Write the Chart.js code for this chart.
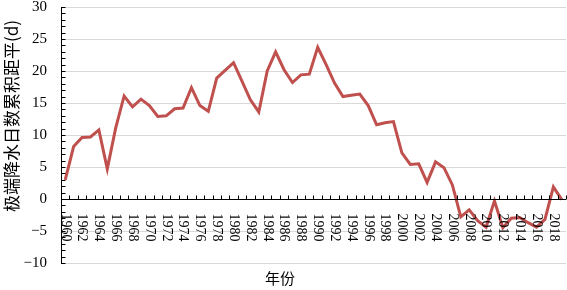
<!DOCTYPE html>
<html>
<head>
<meta charset="utf-8">
<script src="https://cdn.jsdelivr.net/npm/chart.js@4"></script>
<style>
  html, body { margin: 0; padding: 0; background: #fff; }
  #wrap { width: 567px; height: 290px; }
</style>
</head>
<body>
<div id="wrap"><canvas id="chart" width="567" height="290"></canvas></div>
<script>
// years 1960..2019
const years = [];
for (let y = 1960; y <= 2019; y++) years.push(String(y));

const anomaly = [
  3.0, 8.2, 9.6, 9.7, 10.8, 4.7, 11.1, 16.1, 14.4, 15.6,
  14.6, 12.9, 13.0, 14.1, 14.2, 17.4, 14.6, 13.7, 18.9, 20.1,
  21.3, 18.4, 15.5, 13.6, 20.0, 23.0, 20.2, 18.2, 19.4, 19.5,
  23.7, 21.0, 18.1, 16.0, 16.2, 16.4, 14.6, 11.6, 11.9, 12.1,
  7.2, 5.4, 5.5, 2.6, 5.8, 4.9, 2.2, -2.8, -1.7, -3.4,
  -4.4, -0.3, -4.5, -3.0, -2.9, -3.7, -4.4, -3.2, 1.9, -0.1
];

const yTitle = '极端降水日数累积距平(d)';
const xTitle = '年份';
const serif = '"Liberation Serif", "DejaVu Serif", serif';
const cjk = '"Noto Sans CJK SC", sans-serif';

// custom axis drawing: x axis sits on y=0, labels turned clockwise
const axisPlugin = {
  id: 'axisPlugin',
  afterDraw(chart) {
    const ctx = chart.ctx;
    const xs = chart.scales.x;
    const ys = chart.scales.y;
    const area = chart.chartArea;
    const y0 = Math.round(ys.getPixelForValue(0)) + 0.5;
    const step = xs.getPixelForValue(1) - xs.getPixelForValue(0);

    ctx.save();
    ctx.strokeStyle = '#000';
    ctx.lineWidth = 1;

    // x axis line
    ctx.beginPath();
    ctx.moveTo(area.left, y0);
    ctx.lineTo(area.right, y0);
    ctx.stroke();

    // x tick marks between categories
    ctx.beginPath();
    for (let i = 0; i < years.length; i++) {
      const px = Math.round(xs.getPixelForValue(i) + step / 2) + 0.5;
      ctx.moveTo(px, y0);
      ctx.lineTo(px, y0 - 4);
    }
    ctx.stroke();

    // y minor ticks
    const ax = Math.round(area.left) + 0.5;
    ctx.beginPath();
    for (let v = -10; v <= 30; v++) {
      const py = Math.round(ys.getPixelForValue(v)) + 0.5;
      ctx.moveTo(ax, py);
      ctx.lineTo(ax + 4, py);
    }
    ctx.stroke();

    // x labels, every second year
    ctx.fillStyle = '#000';
    ctx.font = '14px ' + serif;
    ctx.textAlign = 'left';
    ctx.textBaseline = 'middle';
    for (let i = 0; i < years.length; i += 2) {
      const px = xs.getPixelForValue(i);
      ctx.save();
      ctx.translate(px, y0 + 14);
      ctx.rotate(Math.PI / 2);
      ctx.fillText(years[i], 0, 0);
      ctx.restore();
    }

    // axis titles
    ctx.font = '15px ' + cjk;
    ctx.textAlign = 'center';
    ctx.fillText(xTitle, 280, 278);

    ctx.save();
    ctx.translate(12, 116);
    ctx.rotate(-Math.PI / 2);
    ctx.font = '17px ' + cjk;
    ctx.fillText(yTitle, 0, 0);
    ctx.restore();

    ctx.restore();
  }
};

const ctx = document.getElementById('chart').getContext('2d');
new Chart(ctx, {
  type: 'line',
  data: {
    labels: years,
    datasets: [{
      data: anomaly,
      borderColor: '#C0504D',
      borderWidth: 3,
      pointRadius: 0,
      tension: 0,
      fill: false
    }]
  },
  options: {
    responsive: false,
    animation: false,
    layout: { padding: { top: 7, right: 1, bottom: 27, left: 0 } },
    plugins: {
      legend: { display: false },
      tooltip: { enabled: false }
    },
    scales: {
      x: {
        type: 'category',
        offset: true,
        display: false
      },
      y: {
        min: -10,
        max: 30,
        afterFit(scale) {
          scale.width = 61;
          scale.paddingTop = 0;
          scale.paddingBottom = 0;
        },
        ticks: {
          stepSize: 5,
          padding: 14,
          color: '#000',
          font: { family: serif, size: 15, lineHeight: 1 },
          callback: v => String(v).replace('-', '\u2212')
        },
        grid: {
          color: '#D9D9D9',
          lineWidth: 1,
          drawTicks: false
        },
        border: { display: true, color: '#000', width: 1 }
      }
    }
  },
  plugins: [axisPlugin]
});
</script>
</body>
</html>
